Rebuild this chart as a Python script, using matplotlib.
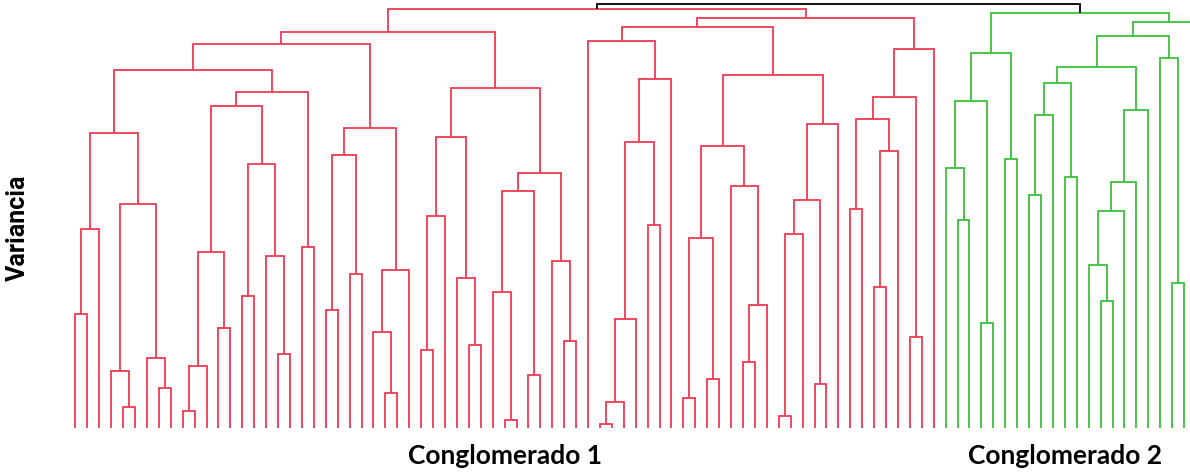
import matplotlib
matplotlib.use("Agg")
from matplotlib import pyplot as plt
from matplotlib import transforms

# hojas 0..72 -> conglomerado 1, 73..93 -> conglomerado 2,
# 94..96 quedan fuera del borde derecho del recorte original
n_leaves = 97
red_leaves = (0, 72)
green_leaves = (73, 93)

# (nombre, izquierda, derecha, altura)
red_merges = [
    ("r01", 0, 1, 114), ("r02", "r01", 2, 199),
    ("r03", 4, 5, 21), ("r04", 3, "r03", 57),
    ("r05", 7, 8, 40), ("r06", 6, "r05", 70),
    ("r07", "r04", "r06", 224), ("r08", "r02", "r07", 295),
    ("r09", 9, 10, 17), ("r10", "r09", 11, 62),
    ("r11", 12, 13, 100), ("r12", "r10", "r11", 176),
    ("r13", 14, 15, 132), ("r14", 17, 18, 74),
    ("r15", 16, "r14", 172), ("r16", "r13", "r15", 264),
    ("r17", "r12", "r16", 322), ("r18", 19, 20, 181),
    ("r19", "r17", "r18", 336), ("r20", "r08", "r19", 358),
    ("r21", 21, 22, 118), ("r22", 23, 24, 154),
    ("r23", "r21", "r22", 273), ("r24", 26, 27, 35),
    ("r25", 25, "r24", 96), ("r26", "r25", 28, 158),
    ("r27", "r23", "r26", 300), ("r28", "r20", "r27", 384),
    ("r29", 29, 30, 78), ("r30", "r29", 31, 212),
    ("r31", 33, 34, 83), ("r32", 32, "r31", 150),
    ("r33", "r30", "r32", 291), ("r34", 36, 37, 8),
    ("r35", 35, "r34", 136), ("r36", 38, 39, 53),
    ("r37", "r35", "r36", 237), ("r38", 41, 42, 87),
    ("r39", 40, "r38", 167), ("r40", "r37", "r39", 255),
    ("r41", "r33", "r40", 340), ("r42", "r28", "r41", 396),
    ("r43", 44, 45, 4), ("r44", "r43", 46, 26),
    ("r45", "r44", 47, 109), ("r46", 48, 49, 203),
    ("r47", "r45", "r46", 286), ("r48", "r47", 50, 349),
    ("r49", 43, "r48", 387), ("r50", 51, 52, 30),
    ("r51", 53, 54, 49), ("r52", "r50", "r51", 190),
    ("r53", 56, 57, 66), ("r54", "r53", 58, 123),
    ("r55", 55, "r54", 242), ("r56", "r52", "r55", 282),
    ("r57", 59, 60, 12), ("r58", "r57", 61, 194),
    ("r59", 62, 63, 44), ("r60", "r58", "r59", 228),
    ("r61", "r60", 64, 304), ("r62", "r56", "r61", 353),
    ("r63", "r49", "r62", 401), ("r64", 65, 66, 219),
    ("r65", 67, 68, 141), ("r66", "r65", 69, 277),
    ("r67", "r64", "r66", 309), ("r68", 70, 71, 91),
    ("r69", "r67", "r68", 331), ("r70", "r69", 72, 379),
    ("r71", "r63", "r70", 410), ("r72", "r42", "r71", 419),
]

green_merges = [
    ("g01", 74, 75, 208), ("g02", 73, "g01", 260),
    ("g03", 76, 77, 105), ("g04", "g02", "g03", 327),
    ("g05", 78, 79, 269), ("g06", "g04", "g05", 375),
    ("g07", 80, 81, 233), ("g08", "g07", 82, 313),
    ("g09", 83, 84, 251), ("g10", "g08", "g09", 345),
    ("g11", 86, 87, 127), ("g12", 85, "g11", 163),
    ("g13", "g12", 88, 217), ("g14", "g13", 89, 246),
    ("g15", "g14", 90, 318), ("g16", "g10", "g15", 361),
    ("g17", 92, 93, 145), ("g18", 91, "g17", 370),
    ("g19", "g16", "g18", 392), ("g20", 95, 96, 180),
    ("g21", 94, "g20", 300), ("g22", "g19", "g21", 406),
    ("g23", "g06", "g22", 415),
]

root_merge = [("root", "r72", "g23", 424)]

group_labels = ["Conglomerado 1", "Conglomerado 2"]
red_color = "#f03a52"
green_color = "#3cc03c"

fig = plt.figure(figsize=(11.9, 4.75), dpi=100)
ax = fig.add_axes([0, 1 - 428.3 / 475, 1, 428.3 / 475])

# posicion x de cada hoja como en scipy (5, 15, 25 ...)
pos = {i: 5 + 10 * i for i in range(n_leaves)}
top = {i: 0 for i in range(n_leaves)}


def draw(merges, color):
    for name, a, b, h in merges:
        xa, xb = pos[a], pos[b]
        ax.plot([xa, xa, xb, xb], [top[a], h, h, top[b]], color=color,
                lw=1.3, solid_joinstyle="miter", solid_capstyle="butt")
        pos[name] = (xa + xb) / 2
        top[name] = h


draw(red_merges, red_color)
draw(green_merges, green_color)
draw(root_merge, "black")

ax.set_xlim(-58.3, 940.0)
ax.set_ylim(0, 428.3)
ax.axis("off")

trans = transforms.blended_transform_factory(ax.transData, fig.transFigure)
for label, (first, last) in zip(group_labels, [red_leaves, green_leaves]):
    ax.text((pos[first] + pos[last]) / 2, 1 - 456 / 475, label, transform=trans,
            ha="center", va="center", fontsize=19, fontweight="bold", family="Lato")

fig.text(18 / 1190, 1 - 228 / 475, "Variancia", rotation=90, ha="center", va="center",
         fontsize=18, fontweight="bold", fontstyle="normal", family="Roboto")

fig.savefig("out.png", dpi=100)
